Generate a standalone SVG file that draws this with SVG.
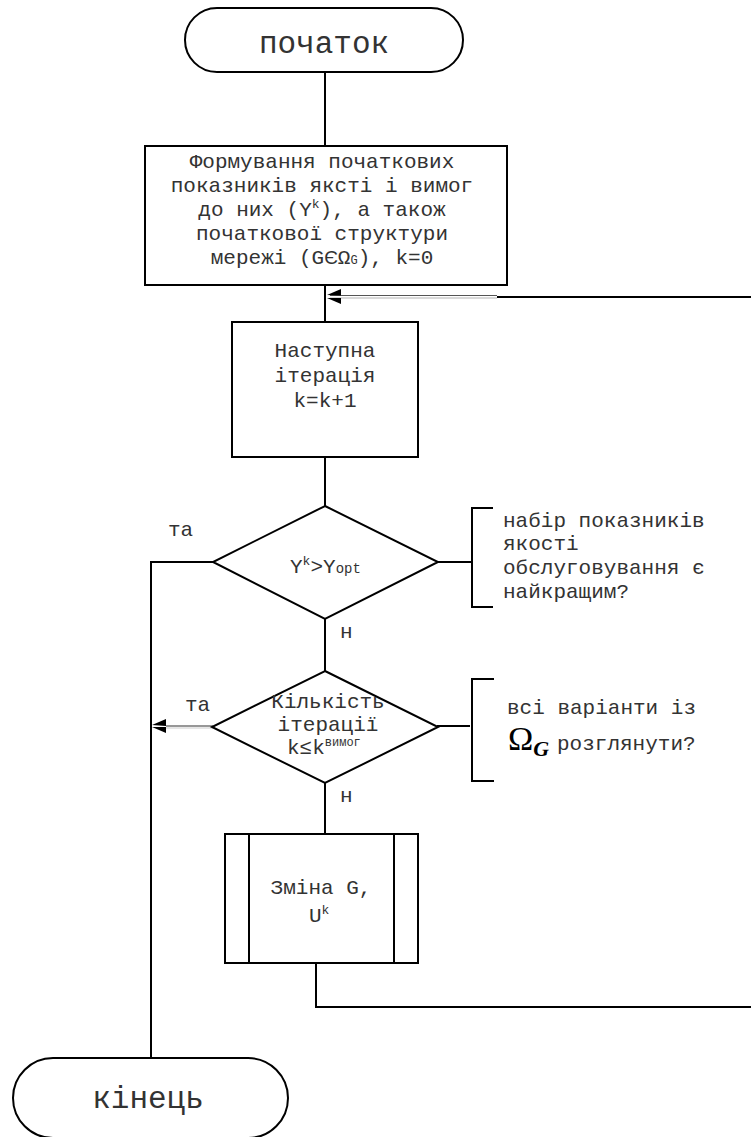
<svg xmlns="http://www.w3.org/2000/svg" width="751" height="1137" viewBox="0 0 751 1137">
<style>
.s{fill:#fff;stroke:#000;stroke-width:2}
.c{fill:none;stroke:#000;stroke-width:2}
.t{font-family:"Liberation Mono","Courier New",monospace;font-size:21px;fill:#333}
.m{text-anchor:middle}
.big{font-size:31px}
</style>
<rect width="751" height="1137" fill="#fff"/>
<g id="connectors">
<line class="c" x1="325" y1="72" x2="325" y2="146"/>
<line class="c" x1="325" y1="285" x2="325" y2="322"/>
<line class="c" x1="497" y1="297" x2="751" y2="297"/>
<line x1="330" y1="295.5" x2="497" y2="295.5" stroke="#555" stroke-width="1"/>
<line x1="330" y1="298" x2="497" y2="298" stroke="#ccc" stroke-width="1.5"/>
<polygon points="327,295 341,289 341,295.5" fill="#000"/>
<polygon points="327,298 341,298 341,304" fill="#000"/>
<line class="c" x1="325" y1="457" x2="325" y2="506"/>
<polyline class="c" points="213,562 151,562 151,1058"/>
<line class="c" x1="437" y1="562" x2="472" y2="562"/>
<line class="c" x1="325" y1="619" x2="325" y2="671"/>
<line x1="213" y1="726" x2="166" y2="726" stroke="#333" stroke-width="1.2"/>
<line x1="213" y1="728" x2="166" y2="728" stroke="#ccc" stroke-width="1"/>
<polygon points="152,725 166,719 166,726" fill="#000"/>
<polygon points="152,727 166,727 166,733" fill="#000"/>
<line class="c" x1="437" y1="726" x2="470" y2="726"/>
<line class="c" x1="325" y1="783" x2="325" y2="834"/>
<polyline class="c" points="316,963 316,1007 751,1007"/>
</g>
<g id="start">
<rect class="s" x="185" y="8" width="278" height="64" rx="32"/>
<text class="t m big" x="324" y="53">початок</text>
</g>
<g id="init">
<rect class="s" x="145" y="146" width="362" height="139"/>
<text class="t m" x="322" y="168">Формування початкових</text>
<text class="t m" x="322" y="192">показників якстi і вимог</text>
<text class="t m" x="322" y="216">до них (Y<tspan font-size="13" dy="-8">k</tspan><tspan dy="8">), а також</tspan></text>
<text class="t m" x="322" y="240">початкової структури</text>
<text class="t m" x="322" y="264">мережі (G<tspan font-family="Liberation Sans, sans-serif" font-size="19">Є</tspan>Ω<tspan font-size="12">G</tspan>), k=0</text>
</g>
<g id="next">
<rect class="s" x="232" y="322" width="186" height="135"/>
<text class="t m" x="325" y="357">Наступна</text>
<text class="t m" x="325" y="382">ітерація</text>
<text class="t m" x="325" y="407">k=k+1</text>
</g>
<g id="cond1">
<polygon class="s" points="325,506 438,562 325,619 213,562"/>
<text class="t" x="290" y="573">Y<tspan font-size="13" dy="-8">k</tspan><tspan dy="8">&gt;Y</tspan><tspan font-size="14">opt</tspan></text>
<text class="t" x="168" y="536">та</text>
<text class="t" x="340" y="638">н</text>
</g>
<g id="note1">
<polyline class="c" points="493,508 472,508 472,607 493,607"/>
<text class="t" x="503" y="527">набір показників</text>
<text class="t" x="503" y="550">якості</text>
<text class="t" x="503" y="574">обслуговування є</text>
<text class="t" x="503" y="598">найкращим?</text>
</g>
<g id="cond2">
<polygon class="s" points="325,671 438,727 325,783 212,727"/>
<text class="t m" x="328" y="708">Кількість</text>
<text class="t m" x="328" y="731">ітерації</text>
<text class="t" x="287" y="754">k≤k<tspan font-size="12" dy="-8">вимог</tspan></text>
<text class="t" x="185" y="711">та</text>
<text class="t" x="340" y="802">н</text>
</g>
<g id="note2">
<polyline class="c" points="494,679 472,679 472,781 494,781"/>
<text class="t" x="507" y="714">всі варіанти із</text>
<text x="508" y="750" font-family="Liberation Serif, serif" font-size="34" fill="#000">Ω<tspan font-size="22" font-style="italic" font-weight="bold" dy="6">G</tspan></text>
<text class="t" x="557" y="750">розглянути?</text>
</g>
<g id="change">
<rect class="s" x="225" y="834" width="193" height="129"/>
<line class="c" x1="249" y1="834" x2="249" y2="963"/>
<line class="c" x1="394" y1="834" x2="394" y2="963"/>
<text class="t m" x="321" y="894">Зміна G,</text>
<text class="t" x="309" y="922">U<tspan font-size="13" dy="-8">k</tspan></text>
</g>
<g id="end">
<rect class="s" x="13" y="1058" width="275" height="80" rx="40"/>
<text class="t m big" x="148" y="1108">кінець</text>
</g>
</svg>
